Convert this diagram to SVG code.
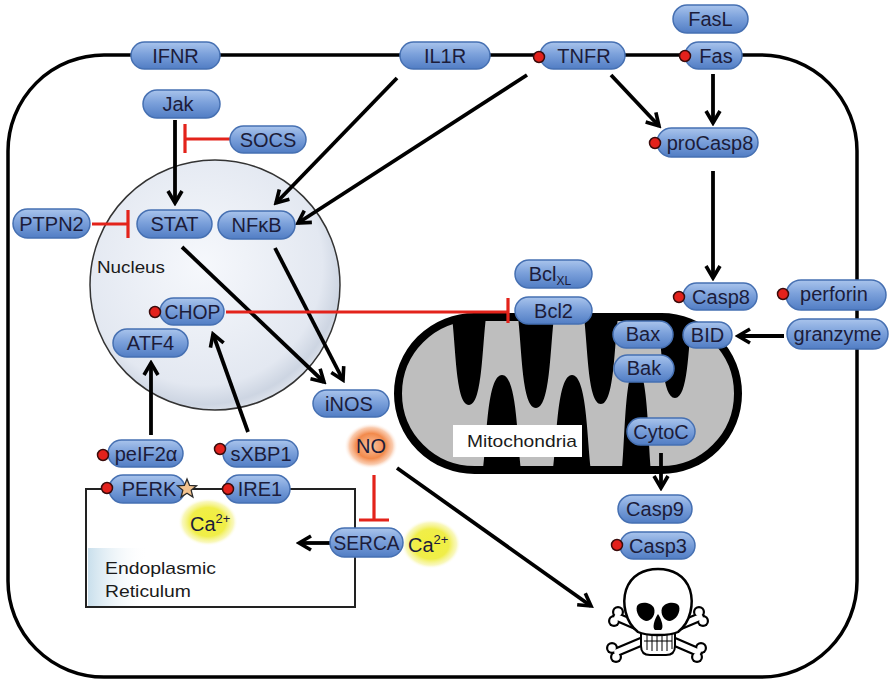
<svg xmlns="http://www.w3.org/2000/svg" width="890" height="682" viewBox="0 0 890 682">
  <style>
    .pill { fill: url(#pillGrad); stroke: #4670b2; stroke-width: 1.5; }
    .lbl { font-family: "Liberation Sans", Arial, sans-serif; font-size: 20px; fill: #1c1c3a; text-anchor: middle; }
    .region { font-family: "Liberation Sans", Arial, sans-serif; font-size: 17px; fill: #1a1a1a; }
    .dot { fill: #e3211c; stroke: #3a0c0c; stroke-width: 1.5; }
    .act { fill: none; stroke: #000; stroke-width: 3.8; marker-end: url(#arrow); }
    .inh { fill: none; stroke: #e3231b; stroke-width: 3.2; }
  </style>
  <defs>
    <linearGradient id="pillGrad" x1="0" y1="0" x2="0" y2="1">
      <stop offset="0" stop-color="#a9c4ec"/>
      <stop offset="0.45" stop-color="#7ca1db"/>
      <stop offset="1" stop-color="#517dc4"/>
    </linearGradient>
    <radialGradient id="nucGrad" cx="0.45" cy="0.42" r="0.6">
      <stop offset="0" stop-color="#f6f8fc"/>
      <stop offset="0.8" stop-color="#e3e8f1"/>
      <stop offset="0.93" stop-color="#cdd5e2"/>
      <stop offset="1" stop-color="#dfe4ed"/>
    </radialGradient>
    <radialGradient id="noGlow" cx="0.5" cy="0.5" r="0.5">
      <stop offset="0" stop-color="#f9c3a0"/>
      <stop offset="0.55" stop-color="#f28a4c"/>
      <stop offset="0.8" stop-color="#f6a878" stop-opacity="0.6"/>
      <stop offset="1" stop-color="#ffffff" stop-opacity="0"/>
    </radialGradient>
    <radialGradient id="caGlow" cx="0.5" cy="0.5" r="0.5">
      <stop offset="0" stop-color="#f1ef3a"/>
      <stop offset="0.6" stop-color="#f0ee4a"/>
      <stop offset="0.85" stop-color="#f5f390" stop-opacity="0.6"/>
      <stop offset="1" stop-color="#ffffff" stop-opacity="0"/>
    </radialGradient>
    <linearGradient id="erGrad" x1="0" y1="0" x2="1" y2="0">
      <stop offset="0" stop-color="#c9dfec"/>
      <stop offset="1" stop-color="#ffffff" stop-opacity="0"/>
    </linearGradient>
    <clipPath id="mitoClip">
      <rect x="398" y="317" width="340" height="153" rx="76.5"/>
    </clipPath>
    <marker id="arrow" markerUnits="userSpaceOnUse" viewBox="0 0 18 18" markerWidth="18" markerHeight="18" refX="15" refY="9" orient="auto">
      <path d="M3,2 L15,9 L3,16" fill="none" stroke="#000" stroke-width="3.6" stroke-linejoin="miter"/>
    </marker>
  </defs>

  <rect width="890" height="682" fill="#ffffff"/>

  <!-- cell membrane -->
  <rect id="cell" x="8" y="55" width="849" height="622" rx="96" fill="none" stroke="#000" stroke-width="3.5"/>

  <!-- nucleus -->
  <g id="nucleus">
    <circle cx="215" cy="285" r="125" fill="url(#nucGrad)" stroke="#333" stroke-width="1.5"/>
    <text class="region" x="97" y="273" textLength="68" lengthAdjust="spacingAndGlyphs">Nucleus</text>
  </g>

  <!-- endoplasmic reticulum -->
  <g id="er">
    <rect x="88" y="548" width="60" height="58" fill="url(#erGrad)"/>
    <rect x="86" y="489" width="269" height="118" fill="none" stroke="#222" stroke-width="2"/>
    <text class="region" x="105" y="574" textLength="111" lengthAdjust="spacingAndGlyphs">Endoplasmic</text>
    <text class="region" x="105" y="597" textLength="86" lengthAdjust="spacingAndGlyphs">Reticulum</text>
  </g>

  <!-- mitochondrion with cristae -->
  <g id="mitochondria">
    <rect x="398" y="317" width="340" height="153" rx="76.5" fill="#bebebe"/>
    <g clip-path="url(#mitoClip)" fill="#000">
      <path d="M452,317 C456,350 456,405 469,405 C482,405 482,350 486,317 Z"/>
      <path d="M518,317 C522,350 522,408 536,408 C550,408 550,350 554,317 Z"/>
      <path d="M584,317 C588,350 588,404 601,404 C614,404 614,350 618,317 Z"/>
      <path d="M658,317 C662,350 662,398 675,398 C688,398 688,350 692,317 Z"/>
      <path d="M483,470 C487,440 487,375 502,375 C517,375 517,440 521,470 Z"/>
      <path d="M553,470 C557,440 557,375 572,375 C587,375 587,440 591,470 Z"/>
      <path d="M622,470 C625,440 625,367 636,367 C648,367 648,440 651,470 Z"/>
    </g>
    <rect x="398" y="317" width="340" height="153" rx="76.5" fill="none" stroke="#000" stroke-width="8"/>
    <rect x="453" y="425" width="129" height="32" fill="#ffffff"/>
    <text class="region" x="467" y="447" textLength="110" lengthAdjust="spacingAndGlyphs">Mitochondria</text>
  </g>

  <!-- glows -->
  <g id="glows">
    <ellipse cx="371" cy="446" rx="27" ry="23" fill="url(#noGlow)"/>
    <ellipse cx="208" cy="522" rx="30" ry="24" fill="url(#caGlow)"/>
    <ellipse cx="431" cy="544" rx="30" ry="25" fill="url(#caGlow)"/>
  </g>

  <!-- connectors -->
  <g id="connectors">
    <path class="act" d="M175,120 L175,203"/>
    <path class="act" d="M397,78 L276,203"/>
    <path class="act" d="M527,75 L298,223"/>
    <path class="act" d="M611,75 L659,126"/>
    <path class="act" d="M713,74 L713,123"/>
    <path class="act" d="M713,171 L713,278"/>
    <path class="act" d="M182,247 L324,382"/>
    <path class="act" d="M275,248 L343,380"/>
    <path class="act" d="M151,435 L151,363"/>
    <path class="act" d="M248,432 L213,334"/>
    <path class="act" d="M784,336 L738,336"/>
    <path class="act" d="M661,453 L661,488"/>
    <path class="act" d="M330,543 L299,543"/>
    <path class="act" d="M397,468 L591,606"/>
    <!-- inhibitions -->
    <path class="inh" d="M230,139 L185,139 M185,124 L185,153"/>
    <path class="inh" d="M92,224 L128,224 M128,210 L128,238"/>
    <path class="inh" d="M226,312 L508,312 M508,298 L508,323"/>
    <path class="inh" d="M374,475 L374,520 M359,520 L389,520"/>
  </g>

  <!-- receptors and signalling proteins -->
  <g id="IFNR"><rect class="pill" x="131" y="42" width="89" height="27" rx="13.5"/><text class="lbl" x="175.5" y="62.5">IFNR</text></g>
  <g id="IL1R"><rect class="pill" x="400" y="42" width="90" height="27" rx="13.5"/><text class="lbl" x="445" y="62.5">IL1R</text></g>
  <g id="TNFR"><rect class="pill" x="540" y="42" width="85" height="27" rx="13.5"/><text class="lbl" x="584" y="62.5">TNFR</text><circle class="dot" cx="539" cy="57" r="5.5"/></g>
  <g id="FasL"><rect class="pill" x="673" y="5" width="75" height="28" rx="14"/><text class="lbl" x="710.5" y="26">FasL</text></g>
  <g id="Fas"><rect class="pill" x="685" y="42" width="57" height="27" rx="13.5"/><text class="lbl" x="716" y="62.5">Fas</text><circle class="dot" cx="685" cy="56" r="5.5"/></g>
  <g id="proCasp8"><rect class="pill" x="657" y="128" width="101" height="29" rx="14.5"/><text class="lbl" x="710" y="150">proCasp8</text><circle class="dot" cx="655" cy="143" r="5.5"/></g>
  <g id="Jak"><rect class="pill" x="143" y="90" width="77" height="28" rx="14"/><text class="lbl" x="178" y="111">Jak</text></g>
  <g id="SOCS"><rect class="pill" x="230" y="126" width="76" height="27" rx="13.5"/><text class="lbl" x="268" y="146.5">SOCS</text></g>
  <g id="PTPN2"><rect class="pill" x="13" y="209" width="77" height="29" rx="14.5"/><text class="lbl" x="51.5" y="230.5">PTPN2</text></g>
  <g id="STAT"><rect class="pill" x="137" y="210" width="75" height="28" rx="14"/><text class="lbl" x="174.5" y="231">STAT</text></g>
  <g id="NFkB"><rect class="pill" x="218" y="211" width="77" height="28" rx="14"/><text class="lbl" x="256.5" y="232">NFκB</text></g>
  <g id="CHOP"><rect class="pill" x="160" y="298" width="64" height="27" rx="13.5"/><text class="lbl" x="192.5" y="318.5" textLength="56" lengthAdjust="spacingAndGlyphs">CHOP</text><circle class="dot" cx="155" cy="312" r="5.5"/></g>
  <g id="ATF4"><rect class="pill" x="113" y="329" width="75" height="28" rx="14"/><text class="lbl" x="150.5" y="350">ATF4</text></g>
  <g id="iNOS"><rect class="pill" x="313" y="390" width="76" height="27" rx="13.5"/><text class="lbl" x="349" y="410.5">iNOS</text></g>
  <g id="NO"><text class="lbl" x="371" y="453">NO</text></g>
  <g id="BclXL"><rect class="pill" x="515" y="260" width="77" height="28" rx="14"/><text class="lbl" x="550" y="281">Bcl<tspan font-size="12" dy="4">XL</tspan></text></g>
  <g id="Bcl2"><rect class="pill" x="515" y="297" width="77" height="27" rx="13.5"/><text class="lbl" x="553.5" y="317.5">Bcl2</text></g>
  <g id="Casp8"><rect class="pill" x="683" y="283" width="74" height="27" rx="13.5"/><text class="lbl" x="721" y="303.5">Casp8</text><circle class="dot" cx="679" cy="297" r="5.5"/></g>
  <g id="perforin"><rect class="pill" x="786" y="280" width="100" height="30" rx="15"/><text class="lbl" x="834" y="301">perforin</text><circle class="dot" cx="783" cy="294" r="5.5"/></g>
  <g id="granzyme"><rect class="pill" x="787" y="319" width="101" height="30" rx="15"/><text class="lbl" x="837.5" y="340.5">granzyme</text></g>
  <g id="BID"><rect class="pill" x="683" y="322" width="49" height="26" rx="13"/><text class="lbl" x="707.5" y="342">BID</text></g>
  <g id="Bax"><rect class="pill" x="613" y="321" width="60" height="27" rx="13.5"/><text class="lbl" x="643" y="341">Bax</text></g>
  <g id="Bak"><rect class="pill" x="614" y="355" width="60" height="27" rx="13.5"/><text class="lbl" x="644" y="375">Bak</text></g>
  <g id="CytoC"><rect class="pill" x="627" y="418" width="68" height="27" rx="13.5"/><text class="lbl" x="661" y="438.5">CytoC</text></g>
  <g id="Casp9"><rect class="pill" x="618" y="495" width="74" height="28" rx="14"/><text class="lbl" x="655" y="516">Casp9</text></g>
  <g id="Casp3"><rect class="pill" x="620" y="532" width="75" height="27" rx="13.5"/><text class="lbl" x="658" y="552.5">Casp3</text><circle class="dot" cx="617" cy="545" r="5.5"/></g>
  <g id="peIF2a"><rect class="pill" x="108" y="440" width="75" height="27" rx="13.5"/><text class="lbl" x="146" y="460.5">peIF2α</text><circle class="dot" cx="103" cy="455" r="5.5"/></g>
  <g id="sXBP1"><rect class="pill" x="223" y="440" width="75" height="27" rx="13.5"/><text class="lbl" x="261" y="460.5">sXBP1</text><circle class="dot" cx="220" cy="449" r="5.5"/></g>
  <g id="PERK"><rect class="pill" x="109" y="475" width="76" height="28" rx="14"/><text class="lbl" x="149" y="496">PERK</text><circle class="dot" cx="107" cy="488" r="5.5"/>
    <path d="M187,479 L189.6,485.4 L196.5,485.9 L191.2,490.3 L192.9,497 L187,493.3 L181.1,497 L182.8,490.3 L177.5,485.9 L184.4,485.4 Z" fill="#f3c38f" stroke="#2a2a2a" stroke-width="1.3"/></g>
  <g id="IRE1"><rect class="pill" x="225" y="475" width="65" height="28" rx="14"/><text class="lbl" x="260" y="496">IRE1</text><circle class="dot" cx="228" cy="489" r="5.5"/></g>
  <g id="SERCA"><rect class="pill" x="330" y="528" width="73" height="29" rx="14.5"/><text class="lbl" x="366.5" y="550" textLength="66" lengthAdjust="spacingAndGlyphs">SERCA</text></g>
  <g id="Ca_er"><text class="lbl" x="190" y="531" style="text-anchor:start">Ca<tspan font-size="13" dy="-8">2+</tspan></text></g>
  <g id="Ca_cyt"><text class="lbl" x="408" y="552" style="text-anchor:start">Ca<tspan font-size="13" dy="-8">2+</tspan></text></g>

  <!-- cell death: skull and crossbones -->
  <g id="death">
    <g stroke="#000" stroke-width="10" stroke-linecap="round">
      <line x1="617" y1="617" x2="698" y2="652"/>
      <line x1="700" y1="617" x2="617" y2="652"/>
    </g>
    <g fill="#000">
      <circle cx="614" cy="621" r="6"/><circle cx="618" cy="612" r="6"/>
      <circle cx="697" cy="657" r="6"/><circle cx="701" cy="648" r="6"/>
      <circle cx="703" cy="621" r="6"/><circle cx="699" cy="612" r="6"/>
      <circle cx="616" cy="657" r="6"/><circle cx="612" cy="648" r="6"/>
    </g>
    <g stroke="#fff" stroke-width="5.5" stroke-linecap="round">
      <line x1="617" y1="617" x2="698" y2="652"/>
      <line x1="700" y1="617" x2="617" y2="652"/>
    </g>
    <g fill="#fff">
      <circle cx="614" cy="621" r="3.8"/><circle cx="618" cy="612" r="3.8"/>
      <circle cx="697" cy="657" r="3.8"/><circle cx="701" cy="648" r="3.8"/>
      <circle cx="703" cy="621" r="3.8"/><circle cx="699" cy="612" r="3.8"/>
      <circle cx="616" cy="657" r="3.8"/><circle cx="612" cy="648" r="3.8"/>
    </g>
    <path d="M641,626 L675,626 L675,646 Q675,655 666,655 L650,655 Q641,655 641,646 Z" fill="#fff" stroke="#000" stroke-width="2"/>
    <g stroke="#000" stroke-width="1">
      <line x1="644" y1="641" x2="672" y2="641"/>
      <line x1="647" y1="634" x2="647" y2="650"/>
      <line x1="652" y1="634" x2="652" y2="651"/>
      <line x1="657" y1="634" x2="657" y2="651"/>
      <line x1="662" y1="634" x2="662" y2="651"/>
      <line x1="667" y1="634" x2="667" y2="651"/>
      <line x1="672" y1="634" x2="672" y2="649"/>
    </g>
    <path d="M638,632 C625,622 622,603 626,590 C631,575 644,569 658,569 C672,569 685,575 690,590 C694,603 691,622 678,632 C670,636 646,636 638,632 Z" fill="#fff" stroke="#000" stroke-width="2.5"/>
    <path d="M637,606 C640,601 651,602 654,608 C656,614 652,621 646,621 C640,620 635,612 637,606 Z" fill="#000"/>
    <path d="M679,606 C676,601 665,602 662,608 C660,614 664,621 670,621 C676,620 681,612 679,606 Z" fill="#000"/>
    <path d="M658,614 C654,620 652,628 655,630 L661,630 C664,628 662,620 658,614 Z" fill="#000"/>
  </g>
</svg>
